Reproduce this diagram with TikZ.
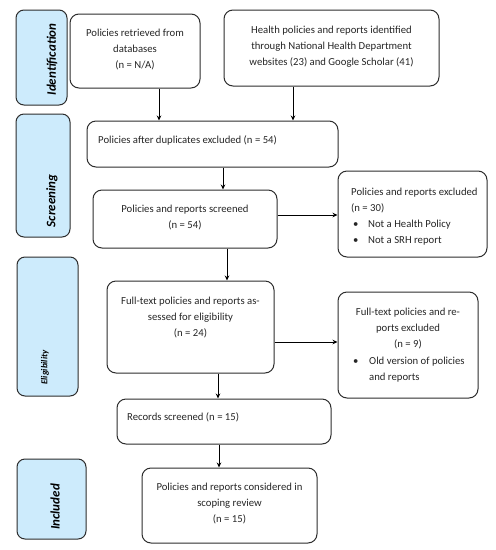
\documentclass[tikz,border=0pt]{standalone}
\usepackage{fontspec}
\setmainfont{Carlito}
\usetikzlibrary{arrows.meta}
\definecolor{lblue}{RGB}{205,235,252}
\definecolor{edge}{RGB}{45,45,45}
\begin{document}
\begin{tikzpicture}[x=1pt,y=-1pt,
 box/.style={draw=edge, line width=1pt, rounded corners=9pt, fill=white, inner sep=0pt},
 phase/.style={draw=edge, line width=1pt, rounded corners=8pt, fill=lblue, inner sep=0pt},
 txt/.style={font=\fontsize{10.7}{16}\selectfont, align=center, inner sep=0pt, text=black!85},
 ltxt/.style={font=\fontsize{10.7}{16}\selectfont, align=left, inner sep=0pt, text=black!85},
 ptxt/.style={font=\fontsize{13}{14}\selectfont\bfseries\itshape, rotate=90, inner sep=0pt},
 arr/.style={draw=black, line width=0.8pt, -{Stealth[length=5pt,width=4.5pt]}}]
\useasboundingbox[fill=white] (0,0) rectangle (496,550);

% phase labels
\node[phase, minimum width=51pt, minimum height=95pt] (p1) at (41.5,57.5) {};
\node[ptxt] (p1t) at (52,59.5) {Identification};
\node[phase, minimum width=54pt, minimum height=123pt] (p2) at (43,175.5) {};
\node[ptxt] (p2t) at (52,201) {Screening};
\node[phase, minimum width=61pt, minimum height=139pt] (p3) at (47.5,326.5) {};
\node[ptxt, font=\fontsize{9}{10}\selectfont\bfseries\itshape] (p3t) at (45,367.5) {Eligibility};
\node[phase, minimum width=69pt, minimum height=80pt] (p4) at (51.5,499) {};
\node[ptxt] (p4t) at (55,507) {Included};

% boxes
\node[box, minimum width=130pt, minimum height=74pt] (b1) at (135,51) {};
\node[txt] (t1) at (135,50) {Policies retrieved from\\databases\\(n = N/A)};
\node[box, minimum width=215pt, minimum height=76pt] (b2) at (331.5,48) {};
\node[txt] (t2) at (331.5,47) {Health policies and reports identified\\through National Health Department\\websites (23) and Google Scholar (41)};
\node[box, minimum width=251pt, minimum height=46pt] (b3) at (212.5,144) {};
\node[ltxt, anchor=west] (t3) at (98,140) {Policies after duplicates excluded (n = 54)};
\node[box, minimum width=184pt, minimum height=58pt] (b4) at (185,219) {};
\node[txt] (t4) at (185,218) {Policies and reports screened\\(n = 54)};
\node[box, minimum width=149pt, minimum height=86pt] (b5) at (412.5,214) {};
\node[ltxt, anchor=west] (t5) at (351,216.5) {Policies and reports excluded\\(n = 30)\\\hspace*{2pt}\makebox[15pt][l]{•}Not a Health Policy\\\hspace*{2pt}\makebox[15pt][l]{•}Not a SRH report};
\node[box, minimum width=167pt, minimum height=92pt] (b6) at (190.5,327) {};
\node[txt] (t6) at (190.5,318) {Full-text policies and reports as-\\sessed for eligibility\\(n = 24)};
\node[box, minimum width=140pt, minimum height=106pt] (b7) at (408,345) {};
\node[txt] (t7a) at (408,329) {Full-text policies and re-\\ports excluded\\(n = 9)};
\node[ltxt, anchor=west] (t7b) at (353,370) {\makebox[16pt][l]{•}Old version of policies\\\hspace*{16pt}and reports};
\node[box, minimum width=214pt, minimum height=45pt] (b8) at (224,421.5) {};
\node[ltxt, anchor=west] (t8) at (127,417) {Records screened (n = 15)};
\node[box, minimum width=175pt, minimum height=75pt] (b9) at (229.5,505.5) {};
\node[txt] (t9) at (229.5,503.5) {Policies and reports considered in\\scoping review\\(n = 15)};

% arrows
\draw[arr] ([xshift=24pt]b1.south) -- ([xshift=24pt]b1.south |- b3.north);
\draw[arr] ([xshift=-38.5pt]b2.south) -- ([xshift=-38.5pt]b2.south |- b3.north);
\draw[arr] ([xshift=10.5pt]b3.south) -- ([xshift=10.5pt]b3.south |- b4.north);
\draw[arr] ([yshift=4pt]b4.east) -- ([yshift=4pt]b4.east -| b5.west);
\draw[arr] ([xshift=42pt]b4.south) -- ([xshift=42pt]b4.south |- b6.north);
\draw[arr] ([yshift=-15pt]b6.east) -- ([yshift=-15pt]b6.east -| b7.west);
\draw[arr] ([xshift=27.5pt]b6.south) -- ([xshift=27.5pt]b6.south |- b8.north);
\draw[arr] ([xshift=-5pt]b8.south) -- ([xshift=-5pt]b8.south |- b9.north);
\end{tikzpicture}
\end{document}
